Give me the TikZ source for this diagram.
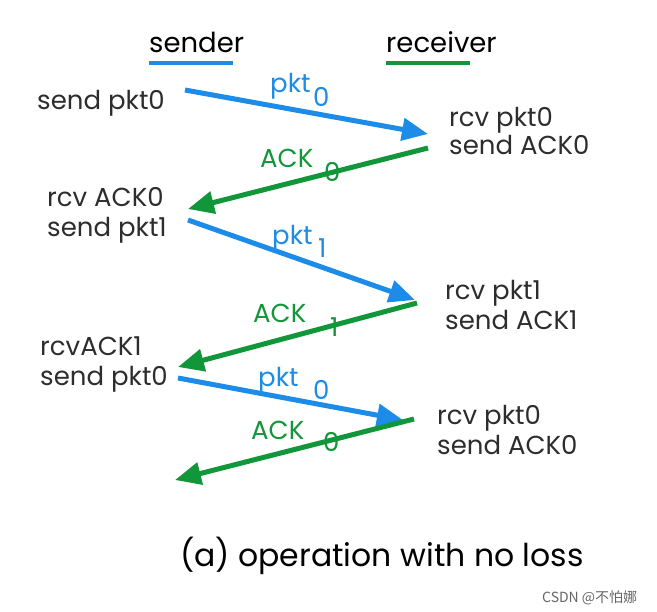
\documentclass[tikz,border=0pt]{standalone}
\usepackage{fontspec}
\usetikzlibrary{arrows.meta}
\newfontfamily\cjkfont{Noto Sans CJK SC}
\newfontfamily\advfont{Poppins}
\definecolor{pktblue}{RGB}{28,140,232}
\definecolor{ackgreen}{RGB}{18,150,58}
\definecolor{txtgray}{RGB}{45,45,45}
\begin{document}
\begin{tikzpicture}[x=1pt,y=-1pt,
  lbl/.style={anchor=base west, inner sep=0pt, text=txtgray, font=\advfont\fontsize{26}{30}\selectfont},
  ttl/.style={anchor=base west, inner sep=0pt, text=black, font=\advfont\fontsize{27.5}{30}\selectfont},
  blbl/.style={lbl, text=pktblue},
  glbl/.style={lbl, text=ackgreen},
  parrow/.style={draw=pktblue, line width=5pt, -{Triangle[length=26pt,width=22pt]}},
  aarrow/.style={draw=ackgreen, line width=5pt, -{Triangle[length=26pt,width=22pt]}},
  uline/.style={line width=3.5pt}
]
\useasboundingbox[fill=white] (0,0) rectangle (657,612);

% titles
\node[ttl] (snd) at (149,53) {sender};
\node[ttl] (rcv) at (386,53) {receiver};
\draw[uline, pktblue] ([yshift=-10pt]snd.base west) -- ++(84,0);
\draw[uline, ackgreen] ([yshift=-10pt]rcv.base west) -- ++(84,0);

% sender side
\node[lbl] (s0) at (37,110) {send pkt0};
\node[lbl] (s1a) at (47,207) {rcv ACK0};
\node[lbl] (s1b) at (47,237) {send pkt1};
\node[lbl] (s2a) at (40,356) {rcvACK1};
\node[lbl] (s2b) at (40,386) {send pkt0};

% receiver side
\node[lbl] (r0a) at (449,127) {rcv pkt0};
\node[lbl] (r0b) at (449,155) {send ACK0};
\node[lbl] (r1a) at (445,300) {rcv pkt1};
\node[lbl] (r1b) at (445,330) {send ACK1};
\node[lbl] (r2a) at (437,425) {rcv pkt0};
\node[lbl] (r2b) at (437,455) {send ACK0};

% arrow end points
\coordinate (p1s) at (185,90);  \coordinate (p1e) at (428,134);
\coordinate (a1s) at (428,148); \coordinate (a1e) at (188,209);
\coordinate (p2s) at (188,220); \coordinate (p2e) at (415,300);
\coordinate (a2s) at (417,303); \coordinate (a2e) at (178,367);
\coordinate (p3s) at (178,378); \coordinate (p3e) at (403,420);
\coordinate (a3s) at (414,419); \coordinate (a3e) at (175,480);

\draw[parrow] (p1s) -- (p1e);
\draw[aarrow] (a1s) -- (a1e);
\draw[parrow] (p2s) -- (p2e);
\draw[aarrow] (a2s) -- (a2e);
\draw[parrow] (p3s) -- (p3e);
\draw[aarrow] (a3s) -- (a3e);

% arrow labels
\node[blbl] (l1) at (270,93) {pkt};  \node[blbl] (l1n) at (313,107) {0};
\node[glbl] (m1) at (260,168) {ACK}; \node[glbl] (m1n) at (324,182) {0};
\node[blbl] (l2) at (272,245) {pkt};  \node[blbl] (l2n) at (318,258) {1};
\node[glbl] (m2) at (253,323) {ACK}; \node[glbl] (m2n) at (330,337) {1};
\node[blbl] (l3) at (258,387) {pkt};  \node[blbl] (l3n) at (313,400) {0};
\node[glbl] (m3) at (251,440) {ACK}; \node[glbl] (m3n) at (323,452) {0};

% caption
\node[anchor=base west, inner sep=0pt, text=black, font=\advfont\fontsize{31.5}{34}\selectfont] (cap) at (180,567) {(a) operation with no loss};
\node[anchor=base west, inner sep=0pt, text=black!60, font=\cjkfont\fontsize{14}{16}\selectfont] (csdn) at (542,603) {CSDN @不怕娜};
\end{tikzpicture}
\end{document}
